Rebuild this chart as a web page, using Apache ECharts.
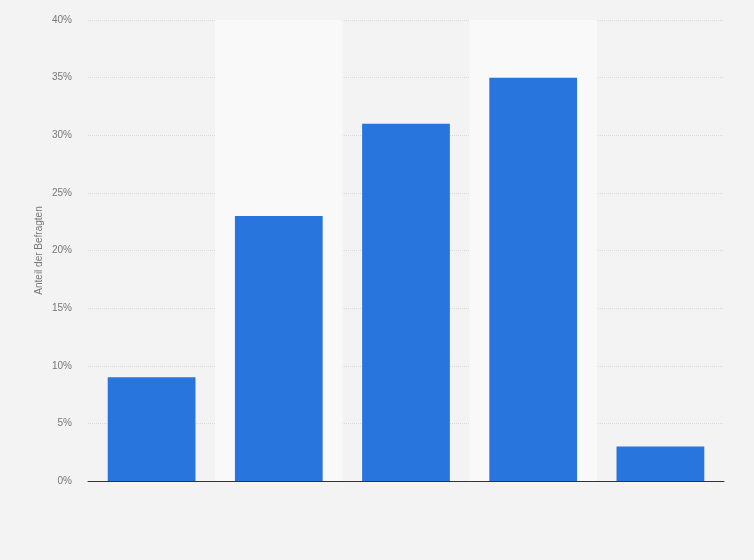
<!DOCTYPE html>
<html>
<head>
<meta charset="utf-8">
<script src="https://cdn.jsdelivr.net/npm/echarts@6/dist/echarts.min.js"></script>
<style>
  html, body { margin: 0; padding: 0; background: #f3f3f3; }
  #chart { width: 754px; height: 560px; }
</style>
</head>
<body>
<div id="chart"></div>
<script>
// Kategorien ohne sichtbare Beschriftung
const categories = ['1', '2', '3', '4', '5'];
const shares = [9, 23, 31, 35, 3];
const yTicks = [0, 5, 10, 15, 20, 25, 30, 35, 40];

const chart = echarts.init(document.getElementById('chart'));

chart.setOption({
  animation: false,
  backgroundColor: '#f3f3f3',
  grid: { left: 88, right: 30, top: 20, bottom: 79 },
  xAxis: {
    type: 'category',
    data: categories,
    axisLine: { lineStyle: { color: '#333', width: 1 } },
    axisTick: { show: false },
    axisLabel: { show: false },
    splitArea: { show: true, areaStyle: { color: ['rgba(0,0,0,0)', '#f9f9f9'] } }
  },
  yAxis: {
    type: 'value',
    min: yTicks[0],
    max: yTicks[yTicks.length - 1],
    interval: 5,
    name: 'Anteil der Befragten',
    nameLocation: 'middle',
    nameGap: 44,
    nameMoveOverlap: false,
    nameTextStyle: { color: '#777', fontSize: 10, fontFamily: 'Liberation Sans' },
    axisLine: { show: false },
    axisTick: { show: false },
    axisLabel: {
      color: '#777', fontSize: 10, fontFamily: 'Liberation Sans', margin: 16,
      formatter: v => v + '%'
    },
    splitLine: { lineStyle: { color: '#dadada', type: [1, 1], width: 1 } }
  },
  series: [{
    type: 'bar',
    data: shares,
    barWidth: '69%',
    itemStyle: { color: '#2876dd' }
  }]
});
</script>
</body>
</html>
